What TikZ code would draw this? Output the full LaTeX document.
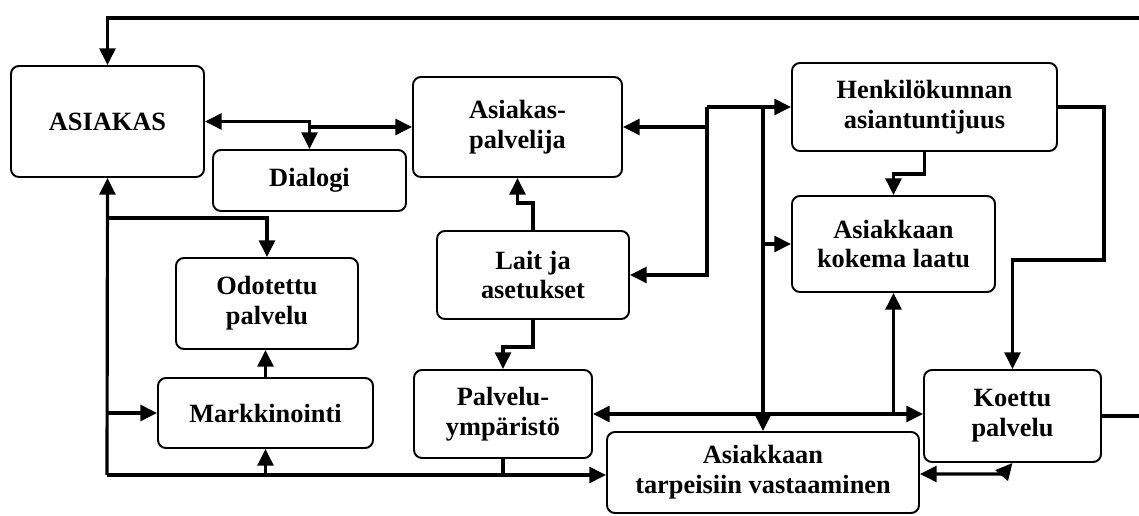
\documentclass[tikz,border=0pt]{standalone}
\usepackage{fontspec}
\setmainfont{Liberation Serif}
\usepackage{tikz}
\usetikzlibrary{arrows.meta}

\begin{document}
\begin{tikzpicture}[x=0.02cm,y=-0.02cm,
  box/.style={draw, rounded corners=4.5pt, line width=1.1pt, align=center, inner sep=0pt,
    font=\fontsize{15}{17}\selectfont\bfseries},
  arr/.style={-{Triangle[length=9.5pt,width=9pt]}, line width=1.8pt},
  darr/.style={{Triangle[length=9.5pt,width=9pt]}-{Triangle[length=9.5pt,width=9pt]}, line width=1.8pt},
  ln/.style={line width=1.8pt}]
\useasboundingbox (0,0) rectangle (1139,516);

\node(as)[box, minimum width=193*0.02cm, minimum height=111*0.02cm] at (107.5,121.5) {ASIAKAS};
\node(di)[box, minimum width=193*0.02cm, minimum height=61*0.02cm] at (309.5,180.5) {Dialogi};
\node(pa)[box, minimum width=209*0.02cm, minimum height=100*0.02cm] at (517.5,127) {Asiakas-\\palvelija};
\node(he)[box, minimum width=265*0.02cm, minimum height=88*0.02cm] at (924.5,107) {Henkilökunnan\\asiantuntijuus};
\node(la)[box, minimum width=203*0.02cm, minimum height=96*0.02cm] at (893.5,244) {Asiakkaan\\kokema laatu};
\node(od)[box, minimum width=182*0.02cm, minimum height=91*0.02cm] at (267,303.5) {Odotettu\\palvelu};
\node(lj)[box, minimum width=192*0.02cm, minimum height=88*0.02cm] at (533,275) {Lait ja\\asetukset};
\node(ma)[box, minimum width=215*0.02cm, minimum height=70*0.02cm] at (265.5,413) {Markkinointi};
\node(py)[box, minimum width=178*0.02cm, minimum height=88*0.02cm] at (503,414) {Palvelu-\\ympäristö};
\node(ko)[box, minimum width=177*0.02cm, minimum height=92*0.02cm] at (1012.5,416) {Koettu\\palvelu};
\node(tv)[box, minimum width=312*0.02cm, minimum height=81*0.02cm] at (763,472.5) {Asiakkaan\\tarpeisiin vastaaminen};

\coordinate(top) at (1139,18);
\coordinate(out) at (1139,416);
\coordinate(bl) at (107,475);
\coordinate(d1) at (309.5,121.5);
\coordinate(d2) at (309.5,127);
\coordinate(vA) at (707,107);
\coordinate(vB) at (763,107);
\coordinate(hk) at (1104,260);
\coordinate(kt) at (1003,474);

% palaute ylhaalta asiakkaalle
\draw[arr] (top) -| (as.north);
\draw[ln] (ko.east) -- (out);

\draw[darr] (as.east) -- (d1) -- (d2) -- (pa.west);
\draw[arr] (d1) -- (di.north);

\draw[arr] (bl) -- (as.south);
\draw[arr] (bl |- 0,218) -| (od.north);
\draw[arr] (bl |- ma.west) -- (ma.west);
\draw[arr] (bl) -- (bl -| tv.west);
\draw[arr] (bl -| ma.south) -- (ma.south);
\draw[ln] (py.south) -- (py.south |- bl);
\draw[arr] (ma.north) -- (ma.north |- od.south);

\draw[arr] (lj.north) -- ++(0,-27) -| (pa.south);
\draw[arr] (lj.south) -- ++(0,27) -| (py.north);

\draw[arr] (vA) -- (he.west);
\draw[arr] (vA |- pa.east) -- (pa.east);
\draw[arr] (vA) -- (vA |- lj.east) -- (lj.east);
\draw[arr] (vB) -- (tv.north);
\draw[arr] (vB |- la.west) -- (la.west);
\draw[darr] (py.east) -- (ko.west |- py.east);
\draw[arr] (la.south |- py.east) -- (la.south);

\draw[arr] (he.south) -- ++(0,22) -| (la.north);
\draw[arr] (he.east) -| (hk) -| (ko.north);
\draw[darr] (tv.east |- kt) -- (kt) -- (ko.south);
\end{tikzpicture}
\end{document}
